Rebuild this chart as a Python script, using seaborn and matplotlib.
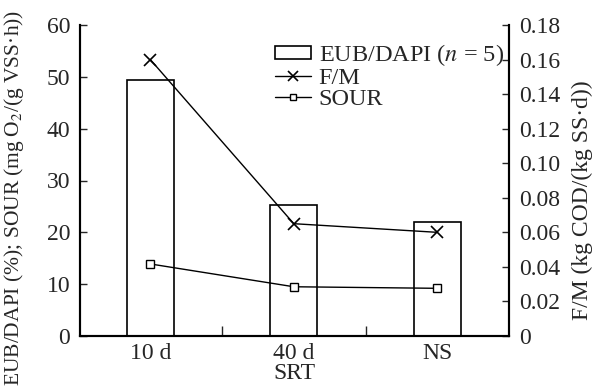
import matplotlib
matplotlib.use("Agg")
import matplotlib.pyplot as plt
from matplotlib import font_manager
import seaborn as sns
import pandas as pd
from matplotlib.patches import Patch
from matplotlib.lines import Line2D

categories = ["10 d", "40 d", "NS"]
eub_dapi = [49.3, 25.2, 21.9]
sour = [13.9, 9.5, 9.2]
fm = [0.160, 0.065, 0.060]
left_ticks = [0, 10, 20, 30, 40, 50, 60]
right_ticks = [0, 0.02, 0.04, 0.06, 0.08, 0.10, 0.12, 0.14, 0.16, 0.18]
right_ticklabels = ["0", "0.02", "0.04", "0.06", "0.08", "0.10", "0.12", "0.14", "0.16", "0.18"]
x_boundaries = [0.5, 1.5]

sns.set_theme(style="ticks")
available = {f.name for f in font_manager.fontManager.ttflist}
serif = next((n for n in ["Liberation Serif", "Times New Roman", "Nimbus Roman",
                          "TeX Gyre Termes", "STIXGeneral"] if n in available), "DejaVu Serif")
plt.rcParams["font.family"] = [serif, "DejaVu Serif"]
plt.rcParams["mathtext.fontset"] = "stix"

df = pd.DataFrame({"SRT": categories, "EUB": eub_dapi, "SOUR": sour, "FM": fm})

fig = plt.figure(figsize=(5.93, 3.87), dpi=100)
ax = fig.add_axes([80/593, 1-336/387, (509-80)/593, (336-25)/387])

sns.barplot(data=df, x="SRT", y="EUB", ax=ax, width=0.33, color="white",
            edgecolor="black", linewidth=1.2, saturation=1)
sns.lineplot(data=df, x="SRT", y="SOUR", ax=ax, color="black", lw=1.0,
             marker="s", markersize=5.5, markerfacecolor="white",
             markeredgecolor="black", markeredgewidth=1.0, sort=False)

ax2 = ax.twinx()
sns.lineplot(data=df, x="SRT", y="FM", ax=ax2, color="black", lw=1.0,
             marker="x", markersize=8, markeredgewidth=1.2,
             markeredgecolor="black", sort=False)

ax.set_xlim(-0.49, 2.5)
ax.set_ylim(0, 60)
ax2.set_ylim(0, 0.18)
ax.set_yticks(left_ticks)
ax2.set_yticks(right_ticks)
ax2.set_yticklabels(right_ticklabels)
ax.set_xticks(x_boundaries, minor=True)

fs = 17
ax.tick_params(axis="y", direction="in", length=5, width=1, labelsize=fs, pad=7)
ax.tick_params(axis="x", which="major", direction="in", length=0, labelsize=fs, pad=5)
ax.tick_params(axis="x", which="minor", direction="in", length=7, width=1)
ax2.tick_params(axis="y", direction="in", length=5, width=1, labelsize=fs, pad=7)

for a in (ax, ax2):
    a.spines["top"].set_visible(False)
    for s in ("left", "right", "bottom"):
        a.spines[s].set_linewidth(1.5)
        a.spines[s].set_color("black")

ax.set_xlabel("SRT", fontsize=fs, labelpad=-1)
ax.set_ylabel("EUB/DAPI (%); SOUR (mg\u2009O$_2$/(g VSS·h))", fontsize=15.5)
ax.yaxis.set_label_coords(-0.125, 0.445)
ax2.set_ylabel("F/M (kg COD/(kg SS·d))", fontsize=fs)
ax2.yaxis.set_label_coords(1.147, 0.437)

handles = [
    Patch(facecolor="white", edgecolor="black", linewidth=1.2),
    Line2D([], [], color="black", lw=1.0, marker="x", markersize=7, markeredgewidth=1.2),
    Line2D([], [], color="black", lw=1.0, marker="s", markersize=5, markerfacecolor="white"),
]
labels = ["EUB/DAPI ($n$ = 5)", "F/M", "SOUR"]
ax2.legend(handles, labels, loc="upper right", bbox_to_anchor=(1.01, 0.976),
           frameon=False, fontsize=17.5, handlelength=1.5, handleheight=0.5,
           handletextpad=0.3, labelspacing=0.0, borderaxespad=0.0)

fig.savefig("out.png", dpi=100)
